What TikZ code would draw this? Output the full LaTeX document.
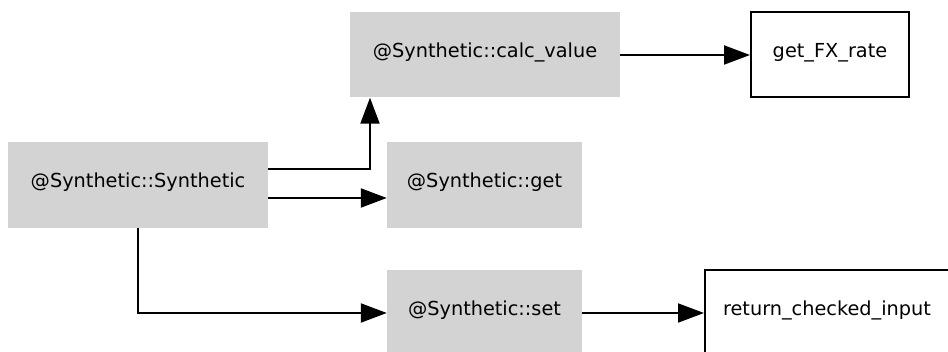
\documentclass[tikz,border=0pt]{standalone}
\usepackage{fontspec}
\setmainfont{DejaVu Sans}
\usetikzlibrary{arrows.meta}
\definecolor{boxgray}{RGB}{211,211,211}
\begin{document}
\begin{tikzpicture}[x=1pt,y=1pt,
  every node/.style={font=\fontsize{19.3}{23}\selectfont, inner sep=0pt, text height=0.75em, text depth=0.22em},
  graybox/.style={fill=boxgray, draw=none},
  plainbox/.style={fill=white, draw=black, line width=2pt},
  arr/.style={line width=2pt, -{Triangle[length=26pt,width=19pt]}}]
\useasboundingbox (0,0) rectangle (948,352);
\node[graybox, minimum width=260pt, minimum height=86pt] (syn) at (138,167) {@Synthetic::Synthetic};
\node[graybox, minimum width=270pt, minimum height=85pt] (calc) at (485,297) {@Synthetic::calc\_value};
\node[plainbox, minimum width=158pt, minimum height=85pt] (fx) at (830,297) {get\_FX\_rate};
\node[graybox, minimum width=195pt, minimum height=86pt] (get) at (484.5,167) {@Synthetic::get};
\node[graybox, minimum width=195pt, minimum height=86pt] (set) at (484.5,39) {@Synthetic::set};
\node[plainbox, minimum width=256pt, minimum height=86pt] (ret) at (833,39) {\hspace*{-12pt}return\_checked\_input};
\draw[arr] ([yshift=16pt]syn.east) -| ([xshift=-115pt]calc.south);
\draw[arr] ([yshift=-13pt]syn.east) -- ([yshift=-13pt]get.west);
\draw[arr] (syn.south) |- (set.west);
\draw[arr] (calc.east) -- (fx.west);
\draw[arr] (set.east) -- (ret.west);
\end{tikzpicture}
\end{document}
